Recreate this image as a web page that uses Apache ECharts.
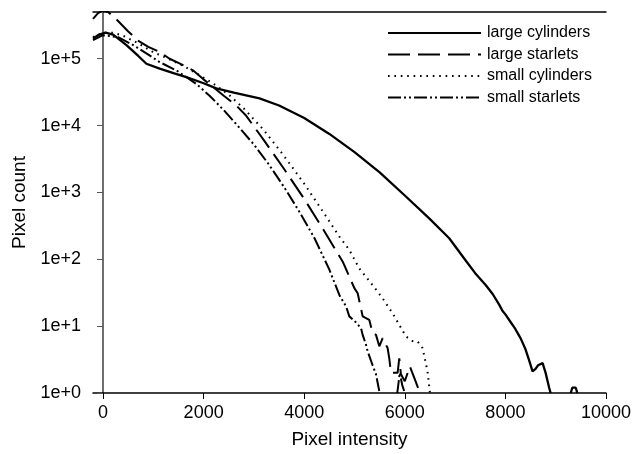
<!DOCTYPE html>
<html>
<head>
<meta charset="utf-8">
<script src="https://cdn.jsdelivr.net/npm/echarts@6/dist/echarts.min.js"></script>
<style>
  html, body { margin: 0; padding: 0; background: #fff; }
  #chart { width: 634px; height: 454px; }
</style>
</head>
<body>
<div id="chart"></div>
<script>
// x ticks and series names
var xTicks = [0, 2000, 4000, 6000, 8000, 10000]
var names = ['large cylinders', 'large starlets', 'small cylinders', 'small starlets']

// large cylinders (solid)
var largeCylX = [-200, -100, 0, 50, 200, 465, 700, 862, 1126, 1400, 1656, 2000, 2251, 2600, 3111, 3500, 4000, 4500, 5000, 5500, 6000, 6485, 6883, 7214, 7400, 7612, 7750, 7876, 7941, 8000, 8140, 8200, 8306, 8400, 8471, 8540, 8600, 8650, 8740, 8800, 8870, 8900, 8950, 9300, 9330, 9400, 9430]
var largeCylY = [2.0e5, 2.25e5, 2.4e5, 2.45e5, 2.3e5, 1.6e5, 1.1e5, 8.4e4, 7.1e4, 6.1e4, 5.3e4, 4.3e4, 3.6e4, 3.1e4, 2.55e4, 2.0e4, 1.3e4, 7.5e3, 4.0e3, 2.0e3, 900, 410, 206, 95, 62, 41, 30, 21, 17, 15, 10.5, 9, 6.5, 4.5, 3.1, 2.1, 2.3, 2.6, 2.8, 2, 1.2, 1, null, 1, 1.2, 1.2, 1]

// large starlets (long dash)
var largeStarX = [-200, -100, 0, 100, 250, 496, 695, 900, 1126, 1324, 1550, 1787, 1985, 2184, 2400, 2648, 2847, 3200, 3600, 4000, 4400, 4766, 4997, 5063, 5162, 5294, 5360, 5427, 5493, 5560, 5658, 5691, 5725, 5857, 5890, 5923, 6000, 6100, 6200, 6300]
var largeStarY = [3.95e5, 4.8e5, 5.3e5, 5.0e5, 4.0e5, 2.58e5, 1.87e5, 1.5e5, 1.26e5, 1.0e5, 8.3e4, 6.7e4, 5.0e4, 3.8e4, 2.8e4, 2.0e4, 1.4e4, 6000, 2240, 800, 263, 92, 37, 31, 14, 12.4, 7.9, 7.4, 5, 6.6, 4.7, 3.3, 2, 2, 3.3, 1.9, 1.5, 2.5, 1.6, 1]

// small cylinders (dotted)
var smallCylX = [-200, 0, 200, 400, 700, 1000, 1300, 1600, 1900, 2200, 2500, 2800, 3200, 3600, 4000, 4400, 4700, 4897, 5094, 5360, 5560, 5757, 6023, 6150, 6254, 6353, 6452, 6500]
var smallCylY = [2.1e5, 2.45e5, 2.45e5, 2.2e5, 1.7e5, 1.25e5, 1.0e5, 7.8e4, 5.8e4, 4.2e4, 2.9e4, 1.8e4, 8.5e3, 3.5e3, 1.35e3, 480, 218, 138, 73, 41, 26, 15.6, 7, 6, 5.9, 4.7, 2.1, 1]

// small starlets (dash-dot-dot)
var smallStarX = [-200, 0, 300, 600, 900, 1126, 1456, 1854, 2118, 2400, 2700, 3000, 3300, 3600, 3900, 4200, 4500, 4700, 4832, 4897, 5000, 5130, 5162, 5228, 5261, 5360, 5427, 5500, 5600, 5850, 5900, 5950, 6000]
var smallStarY = [1.9e5, 2.25e5, 2.1e5, 1.6e5, 1.15e5, 8.9e4, 6.7e4, 4.2e4, 2.8e4, 1.7e4, 9.5e3, 5.2e3, 2.6e3, 1.2e3, 520, 210, 70, 29, 19.7, 14, 12, 9.3, 7.4, 5.3, 4.2, 2.6, 1.9, 1, null, 1, 2, 1.3, 1]

var zip = function (xs, ys) {
  return xs.map(function (x, i) { return [x, ys[i]] })
}

var font = 'Liberation Sans, Arial, sans-serif'
var dashes = ['solid', [22, 8], [1.6, 4.8], [13, 3, 2, 3, 2, 3]]
var widths = [2.3, 2, 2, 2]
var dataSets = [
  zip(largeCylX, largeCylY),
  zip(largeStarX, largeStarY),
  zip(smallCylX, smallCylY),
  zip(smallStarX, smallStarY),
]

var chart = echarts.init(document.getElementById('chart'))

var logLabel = function (v) {
  var e = Math.log10(v)
  if (Math.abs(e - Math.round(e)) > 1e-6) return ''
  return '1e+' + Math.round(e)
}

chart.setOption({
  animation: false,
  backgroundColor: '#fff',
  grid: {
    left: 93,
    right: 27,
    top: 12,
    bottom: 59,
  },
  legend: {
    orient: 'vertical',
    left: 382,
    top: 20,
    itemWidth: 93,
    itemHeight: 14,
    itemGap: 5.5,
    data: names,
    itemStyle: { opacity: 0, color: 'transparent', borderWidth: 0 },
    textStyle: {
      fontFamily: font,
      fontSize: 16,
      color: '#000',
      padding: [0, 0, 0, 1],
    },
  },
  xAxis: [
    {
      type: 'value',
      min: -200,
      max: 10000,
      name: 'Pixel intensity',
      nameLocation: 'middle',
      nameGap: 37,
      nameTextStyle: { fontFamily: font, fontSize: 19, color: '#000' },
      splitLine: { show: false },
      axisLine: { lineStyle: { color: '#000', width: 1.5 } },
      axisTick: { customValues: xTicks, length: 6, lineStyle: { color: '#000' } },
      axisLabel: {
        customValues: xTicks,
        margin: 11,
        fontFamily: font,
        fontSize: 18,
        color: '#000',
        formatter: function (v) { return String(v) },
      },
    },
    {
      type: 'value',
      position: 'top',
      min: -200,
      max: 10000,
      splitLine: { show: false },
      axisLine: { show: true, onZero: false, lineStyle: { color: '#000', width: 1.5 } },
      axisTick: { show: false },
      axisLabel: { show: false },
    },
  ],
  yAxis: [
    {
      type: 'log',
      logBase: 10,
      min: 1,
      max: 5e5,
      name: 'Pixel count',
      nameLocation: 'middle',
      nameGap: 63,
      nameTextStyle: { fontFamily: font, fontSize: 19, color: '#000' },
      splitLine: { show: false },
      axisLine: { show: true, lineStyle: { color: '#6e6e6e', width: 2 } },
      axisTick: { length: 6, lineStyle: { color: '#555' } },
      axisLabel: {
        margin: 12,
        fontFamily: font,
        fontSize: 18,
        color: '#000',
        formatter: logLabel,
      },
    },
    {
      type: 'log',
      position: 'right',
      min: 1,
      max: 5e5,
      splitLine: { show: false },
      axisLine: { show: true, lineStyle: { color: '#6e6e6e', width: 2 } },
      axisTick: { show: false },
      axisLabel: { show: false },
    },
  ],
  series: names.map(function (name, i) {
    return {
      name: name,
      type: 'line',
      data: dataSets[i],
      symbol: 'none',
      showSymbol: false,
      clip: true,
      connectNulls: false,
      lineStyle: { color: '#000', width: widths[i], type: dashes[i] },
      itemStyle: { color: '#000' },
    }
  }),
})
</script>
</body>
</html>
